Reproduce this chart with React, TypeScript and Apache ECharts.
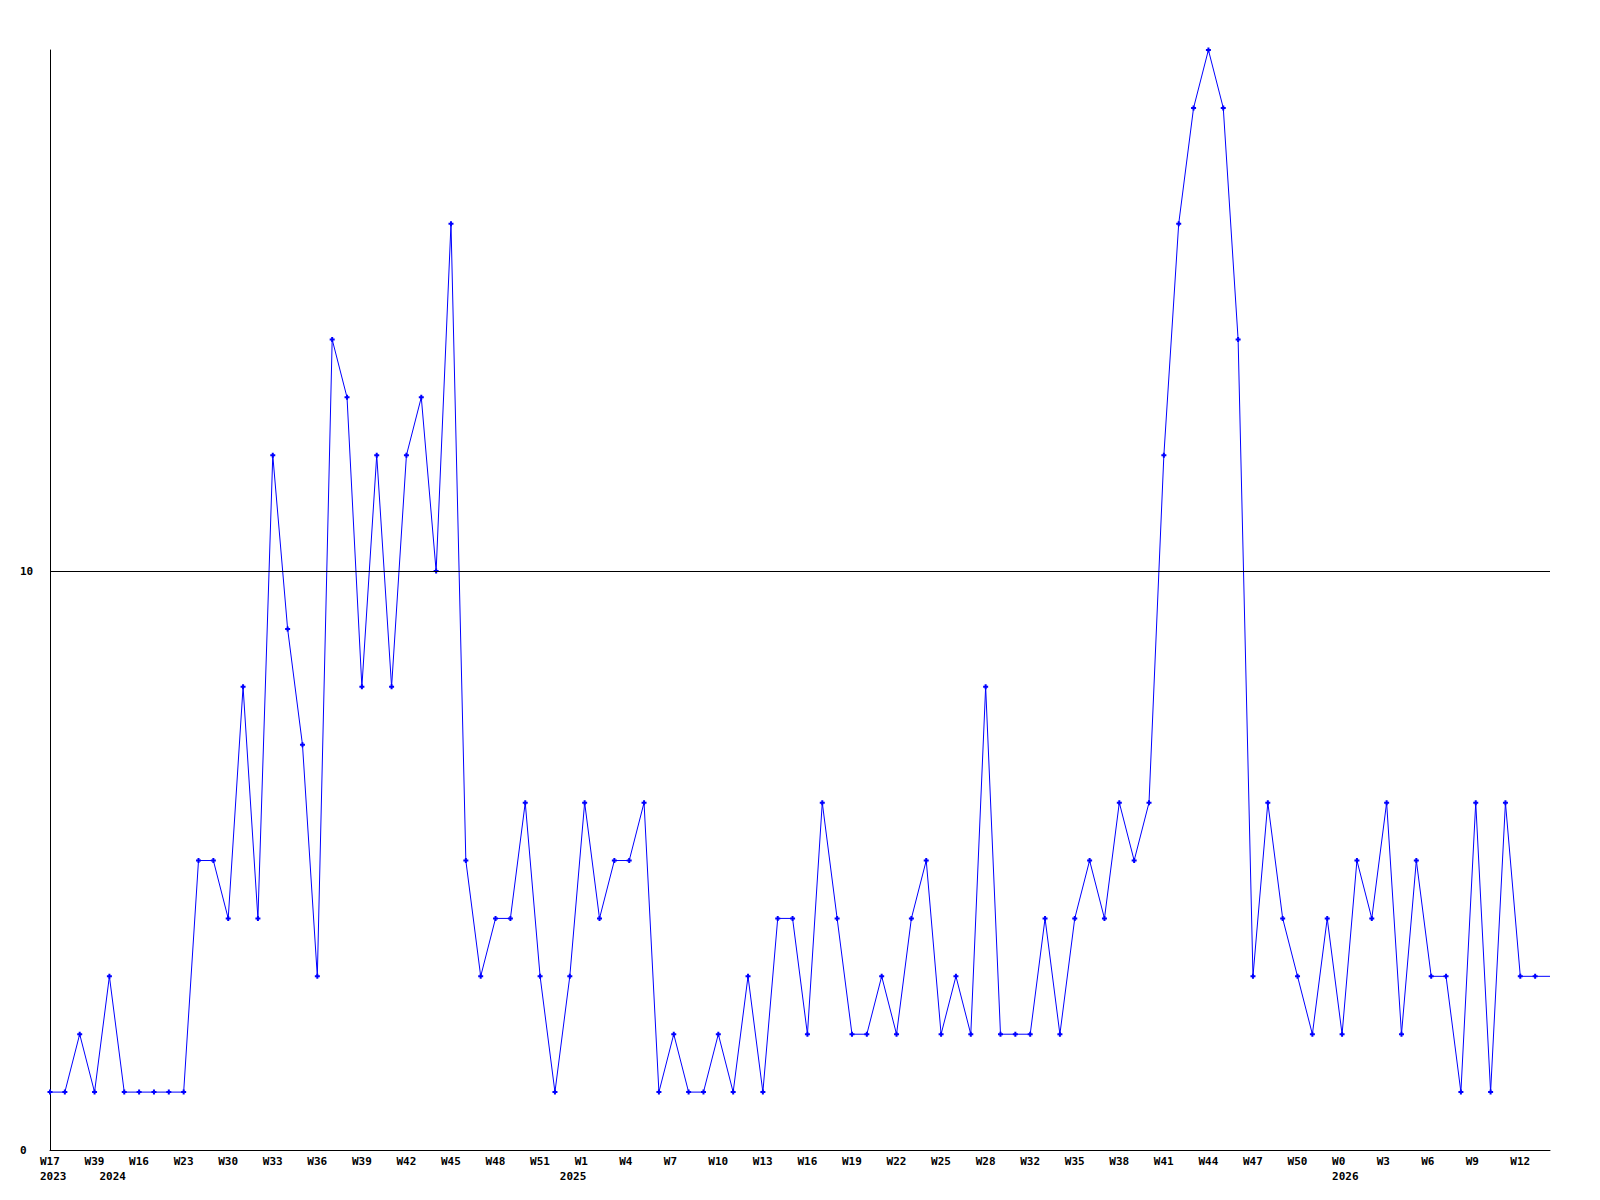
import React, { useEffect, useRef } from "react";
import * as echarts from "echarts";

const weekLabels: string[] = [
  "W17", "W21", "W25", "W39", "W14", "W15", "W16", "W18", "W20", "W23",
  "W25", "W27", "W30", "W31", "W32", "W33", "W34", "W35", "W36", "W37",
  "W38", "W39", "W40", "W41", "W42", "W43", "W44", "W45", "W46", "W47",
  "W48", "W49", "W50", "W51", "W52", "W0", "W1", "W2", "W3", "W4",
  "W5", "W6", "W7", "W8", "W9", "W10", "W11", "W12", "W13", "W14",
  "W15", "W16", "W17", "W18", "W19", "W20", "W21", "W22", "W23", "W24",
  "W25", "W26", "W27", "W28", "W30", "W31", "W32", "W33", "W34", "W35",
  "W36", "W37", "W38", "W39", "W40", "W41", "W42", "W43", "W44", "W45",
  "W46", "W47", "W48", "W49", "W50", "W51", "W52", "W0", "W1", "W2",
  "W3", "W4", "W5", "W6", "W7", "W8", "W9", "W10", "W11", "W12",
  "W13", "W14",
];

const values: number[] = [
  1, 1, 2, 1, 3, 1, 1, 1, 1, 1,
  5, 5, 4, 8, 4, 12, 9, 7, 3, 14,
  13, 8, 12, 8, 12, 13, 10, 16, 5, 3,
  4, 4, 6, 3, 1, 3, 6, 4, 5, 5,
  6, 1, 2, 1, 1, 2, 1, 3, 1, 4,
  4, 2, 6, 4, 2, 2, 3, 2, 4, 5,
  2, 3, 2, 8, 2, 2, 2, 4, 2, 4,
  5, 4, 6, 5, 6, 12, 16, 18, 19, 18,
  14, 3, 6, 4, 3, 2, 4, 2, 5, 4,
  6, 2, 5, 3, 3, 1, 6, 1, 6, 3,
  3, 3,
];

const yearStartIdx: number[] = [0, 4, 35, 87];
const yearNames: string[] = ["2023", "2024", "2025", "2026"];

const yTicks: number[] = [0, 10];
const refLineValue = 10;

const FONT = "'DejaVu Sans Mono', monospace";
const PLUS = "path://M1.5,0H3.5V1.5H5V3.5H3.5V5H1.5V3.5H0V1.5H1.5Z";

export default function App() {
  const ref = useRef<HTMLDivElement>(null);

  useEffect(() => {
    if (!ref.current) return;
    const chart = echarts.init(ref.current, undefined, { renderer: "svg" });
    const lastIdx = values.length - 1;
    const seriesData = values.map((v, i) =>
      i === lastIdx ? { value: v, symbol: "none" } : v
    );
    chart.setOption({
      animation: false,
      backgroundColor: "#ffffff",
      grid: { left: 50, right: 50, top: 50, bottom: 50, containLabel: false },
      xAxis: {
        type: "category",
        data: weekLabels,
        boundaryGap: false,
        axisLine: { show: true, lineStyle: { color: "#000", width: 1 } },
        axisTick: { show: false },
        splitLine: { show: false },
        axisLabel: {
          interval: (index: number) =>
            index % 3 === 0 || yearStartIdx.includes(index),
          formatter: (value: string, index: number) => {
            const week = index % 3 === 0 ? value : "";
            const yi = yearStartIdx.indexOf(index);
            return yi >= 0 ? week + "\n" + yearNames[yi] : week;
          },
          align: "left",
          verticalAlign: "top",
          padding: [0, 0, 0, -10],
          margin: 4,
          lineHeight: 15,
          fontFamily: FONT,
          fontWeight: "bold",
          fontSize: 11,
          color: "#000",
          hideOverlap: false,
        },
      },
      yAxis: {
        type: "value",
        min: 0,
        max: 19,
        interval: 10,
        axisLine: { show: true, lineStyle: { color: "#000", width: 1 } },
        axisTick: { show: false },
        splitLine: { show: false },
        axisLabel: {
          formatter: (v: number) => (yTicks.includes(v) ? String(v) : ""),
          showMaxLabel: false,
          align: "left",
          margin: 30,
          fontFamily: FONT,
          fontWeight: "bold",
          fontSize: 11,
          color: "#000",
        },
      },
      series: [
        {
          type: "line",
          data: seriesData,
          symbol: PLUS,
          symbolSize: 5,
          showAllSymbol: true,
          lineStyle: { color: "#0000ff", width: 1 },
          itemStyle: { color: "#0000ff" },
          markLine: {
            silent: true,
            symbol: "none",
            label: { show: false },
            lineStyle: { color: "#000", width: 1, type: "solid" },
            data: [{ yAxis: refLineValue }],
          },
          z: 3,
        },
      ],
    });
    return () => chart.dispose();
  }, []);

  return (
    <div
      ref={ref}
      style={{ position: "fixed", left: 0, top: 0, width: 1600, height: 1200 }}
    />
  );
}
